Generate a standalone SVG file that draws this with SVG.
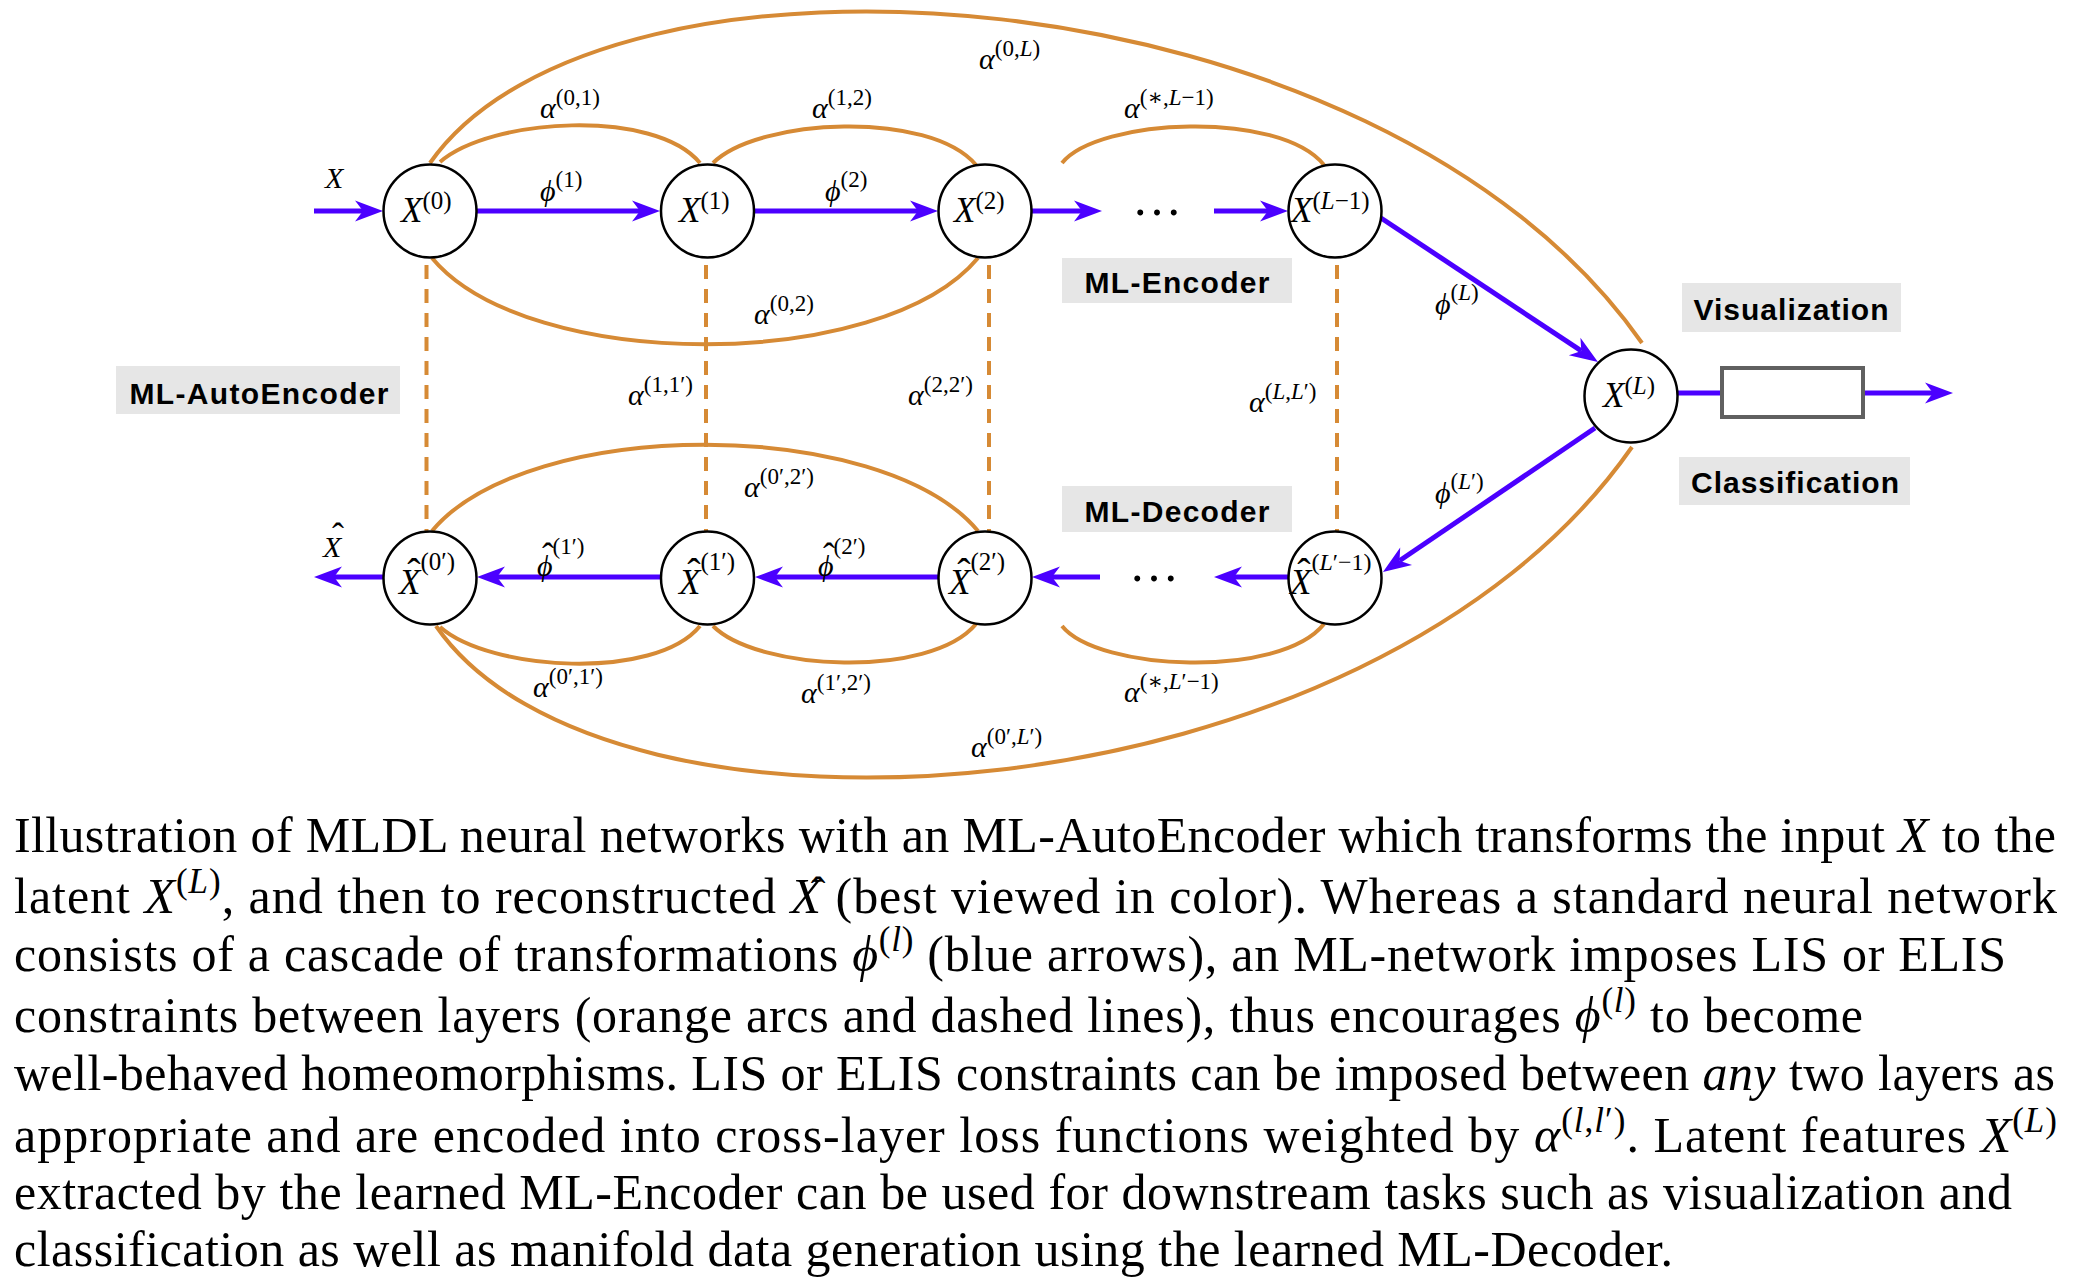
<svg xmlns="http://www.w3.org/2000/svg" width="2083" height="1286" viewBox="0 0 2083 1286">
<style>
.arc{fill:none;stroke:#d68a35;stroke-width:4}
.dash{fill:none;stroke:#d68a35;stroke-width:4;stroke-dasharray:14 10}
.arr{fill:none;stroke:#4b00ff;stroke-width:5;marker-end:url(#ah)}
.ln{fill:none;stroke:#4b00ff;stroke-width:5}
.node{fill:#fff;stroke:#000;stroke-width:2.5}
.tag{fill:#e6e6e6}
.tagt{font-family:"Liberation Sans",Arial,sans-serif;font-weight:bold;font-size:30px;fill:#000;text-anchor:middle}
.m{font-family:"Liberation Serif","DejaVu Serif",serif;font-style:italic;fill:#000}
.n{font-style:normal}
.hat{font-family:"Liberation Serif","DejaVu Serif",serif;fill:#000;text-anchor:middle}
.cap{font-family:"Liberation Serif","Times New Roman",serif;font-size:50px;fill:#000}
.i{font-style:italic}
</style>
<defs>
<marker id="ah" markerUnits="userSpaceOnUse" markerWidth="28" markerHeight="21" refX="8" refY="10.5" orient="auto" overflow="visible">
<path d="M0,0 L28,10.5 L0,21 L8,10.5 Z" fill="#4b00ff"/>
</marker>
</defs>
<rect width="2083" height="1286" fill="#fff"/>

<g id="connectors">
<path class="arc" d="M430,163 C602,-83 1378,-34 1642,343"/>
<path class="arc" d="M440,162 C490,118 655,108 700,163"/>
<path class="arc" d="M713,163 C758,118 930,110 976,165"/>
<path class="arc" d="M1062,163 C1098,118 1280,110 1324,165"/>
<path class="arc" d="M432,258 C528,373 882,373 978,258"/>
<path class="arc" d="M432,531 C528,416 882,416 978,531"/>
<path class="arc" d="M440,627 C490,671 655,681 700,626"/>
<path class="arc" d="M713,626 C758,671 930,679 976,624"/>
<path class="arc" d="M1062,626 C1098,671 1280,679 1324,624"/>
<path class="arc" d="M436,626 C606,872 1370,823 1632,447"/>
<line class="dash" x1="426.5" y1="265" x2="426.5" y2="531"/>
<line class="dash" x1="706" y1="265" x2="706" y2="531"/>
<line class="dash" x1="989" y1="265" x2="989" y2="531"/>
<line class="dash" x1="1337" y1="265" x2="1337" y2="531"/>
<line class="arr" x1="314" y1="211" x2="363" y2="211"/>
<line class="arr" x1="477" y1="211" x2="640" y2="211"/>
<line class="arr" x1="755" y1="211" x2="918" y2="211"/>
<line class="arr" x1="1032" y1="211" x2="1082" y2="211"/>
<line class="arr" x1="1214" y1="211" x2="1268" y2="211"/>
<line class="arr" x1="1381" y1="218" x2="1581.3" y2="350.9"/>
<line class="ln" x1="1677" y1="393" x2="1722" y2="393"/>
<line class="arr" x1="1863" y1="393" x2="1933" y2="393"/>
<line class="arr" x1="1595" y1="428" x2="1399.5" y2="560.8"/>
<line class="arr" x1="1288" y1="577" x2="1234" y2="577"/>
<line class="arr" x1="1100" y1="577" x2="1052" y2="577"/>
<line class="arr" x1="938" y1="577" x2="775" y2="577"/>
<line class="arr" x1="660" y1="577" x2="497" y2="577"/>
<line class="arr" x1="383" y1="577" x2="334" y2="577"/>
<text class="cap" x="1157" y="215" font-size="56" text-anchor="middle">…</text>
<text class="cap" x="1154" y="581" font-size="56" text-anchor="middle">…</text>
<text class="m" x="325" y="188" font-size="30">X</text>
<text class="m" x="323" y="557" font-size="30">X</text>
<text class="hat" x="338" y="548" font-size="36">ˆ</text>
<text class="m" x="540" y="201" font-size="30">ϕ<tspan class="n" font-size="23" dy="-14">(1)</tspan></text>
<text class="m" x="825" y="201" font-size="30">ϕ<tspan class="n" font-size="23" dy="-14">(2)</tspan></text>
<text class="m" x="1435" y="314" font-size="30">ϕ<tspan font-size="23" dy="-14"><tspan class="n">(</tspan>L<tspan class="n">)</tspan></tspan></text>
<text class="m" x="1435" y="503" font-size="30">ϕ<tspan font-size="23" dy="-14"><tspan class="n">(</tspan>L<tspan class="n">′)</tspan></tspan></text>
<text class="m" x="537" y="576" font-size="30">ϕ<tspan class="n" font-size="23" dy="-22">(1′)</tspan></text>
<text class="hat" x="548" y="568" font-size="36">ˆ</text>
<text class="m" x="818" y="576" font-size="30">ϕ<tspan class="n" font-size="23" dy="-22">(2′)</tspan></text>
<text class="hat" x="829" y="568" font-size="36">ˆ</text>
<text class="m" x="540" y="118" font-size="30">α<tspan class="n" font-size="23" dy="-13">(0,1)</tspan></text>
<text class="m" x="812" y="118" font-size="30">α<tspan class="n" font-size="23" dy="-13">(1,2)</tspan></text>
<text class="m" x="979" y="69" font-size="30">α<tspan font-size="23" dy="-13"><tspan class="n">(0,</tspan>L<tspan class="n">)</tspan></tspan></text>
<text class="m" x="1124" y="118" font-size="30">α<tspan font-size="23" dy="-13"><tspan class="n">(∗,</tspan>L<tspan class="n">−1)</tspan></tspan></text>
<text class="m" x="754" y="324" font-size="30">α<tspan class="n" font-size="23" dy="-13">(0,2)</tspan></text>
<text class="m" x="628" y="405" font-size="30">α<tspan class="n" font-size="23" dy="-13">(1,1′)</tspan></text>
<text class="m" x="908" y="405" font-size="30">α<tspan class="n" font-size="23" dy="-13">(2,2′)</tspan></text>
<text class="m" x="1249" y="412" font-size="30">α<tspan font-size="23" dy="-13"><tspan class="n">(</tspan>L<tspan class="n">,</tspan>L<tspan class="n">′)</tspan></tspan></text>
<text class="m" x="744" y="497" font-size="30">α<tspan class="n" font-size="23" dy="-13">(0′,2′)</tspan></text>
<text class="m" x="533" y="697" font-size="30">α<tspan class="n" font-size="23" dy="-13">(0′,1′)</tspan></text>
<text class="m" x="801" y="703" font-size="30">α<tspan class="n" font-size="23" dy="-13">(1′,2′)</tspan></text>
<text class="m" x="1124" y="702" font-size="30">α<tspan font-size="23" dy="-13"><tspan class="n">(∗,</tspan>L<tspan class="n">′−1)</tspan></tspan></text>
<text class="m" x="971" y="757" font-size="30">α<tspan font-size="23" dy="-13"><tspan class="n">(0′,</tspan>L<tspan class="n">′)</tspan></tspan></text>
</g>

<g id="n-x0"><circle class="node" cx="430" cy="211" r="46.5"/><text class="m" x="401" y="222" font-size="35">X<tspan class="n" font-size="25" dy="-13">(0)</tspan></text></g>
<g id="n-x1"><circle class="node" cx="707.5" cy="211" r="46.5"/><text class="m" x="679" y="222" font-size="35">X<tspan class="n" font-size="25" dy="-13">(1)</tspan></text></g>
<g id="n-x2"><circle class="node" cx="985" cy="211" r="46.5"/><text class="m" x="954" y="222" font-size="35">X<tspan class="n" font-size="25" dy="-13">(2)</tspan></text></g>
<g id="n-xl1"><circle class="node" cx="1335" cy="211" r="46.5"/><text class="m" x="1291" y="222" font-size="35">X<tspan font-size="25" dy="-13"><tspan class="n">(</tspan>L<tspan class="n">−1)</tspan></tspan></text></g>
<g id="n-xl"><circle class="node" cx="1631" cy="396" r="46.5"/><text class="m" x="1603" y="407" font-size="35">X<tspan font-size="25" dy="-13"><tspan class="n">(</tspan>L<tspan class="n">)</tspan></tspan></text></g>
<g id="n-y0"><circle class="node" cx="430" cy="578" r="46.5"/><text class="m" x="399" y="594" font-size="35">X<tspan class="n" font-size="25" dy="-24">(0′)</tspan></text><text class="hat" x="414" y="586" font-size="40">ˆ</text></g>
<g id="n-y1"><circle class="node" cx="707.5" cy="578" r="46.5"/><text class="m" x="679" y="594" font-size="35">X<tspan class="n" font-size="25" dy="-24">(1′)</tspan></text><text class="hat" x="694" y="586" font-size="40">ˆ</text></g>
<g id="n-y2"><circle class="node" cx="985" cy="578" r="46.5"/><text class="m" x="949" y="594" font-size="35">X<tspan class="n" font-size="25" dy="-24">(2′)</tspan></text><text class="hat" x="964" y="586" font-size="40">ˆ</text></g>
<g id="n-yl1"><circle class="node" cx="1335" cy="578" r="46.5"/><text class="m" x="1290" y="594" font-size="35">X<tspan font-size="24" dy="-24"><tspan class="n">(</tspan>L<tspan class="n">′−1)</tspan></tspan></text><text class="hat" x="1304" y="586" font-size="40">ˆ</text></g>
<g id="n-box"><rect x="1722" y="368" width="141" height="49" fill="#fff" stroke="#606060" stroke-width="4"/></g>

<g id="n-autoenc"><rect class="tag" x="116" y="366" width="284" height="48"/><text class="tagt" x="259" y="404" textLength="259" lengthAdjust="spacing">ML-AutoEncoder</text></g>
<g id="n-enc"><rect class="tag" x="1062" y="258" width="230" height="45"/><text class="tagt" x="1177" y="293" textLength="185" lengthAdjust="spacing">ML-Encoder</text></g>
<g id="n-dec"><rect class="tag" x="1062" y="486" width="230" height="46"/><text class="tagt" x="1177" y="522" textLength="185" lengthAdjust="spacing">ML-Decoder</text></g>
<g id="n-vis"><rect class="tag" x="1682" y="283" width="219" height="49"/><text class="tagt" x="1791" y="320" textLength="195" lengthAdjust="spacing">Visualization</text></g>
<g id="n-cls"><rect class="tag" x="1679" y="457" width="231" height="48"/><text class="tagt" x="1795" y="493" textLength="208" lengthAdjust="spacing">Classification</text></g>

<g id="caption">
<text class="cap" x="14" y="852" textLength="2042" lengthAdjust="spacing">Illustration of MLDL neural networks with an ML-AutoEncoder which transforms the input <tspan class="i">X</tspan> to the</text>
<text class="cap" x="14" y="913" textLength="2043" lengthAdjust="spacing">latent <tspan class="i">X</tspan><tspan font-size="35" dy="-20">(<tspan class="i">L</tspan>)</tspan><tspan dy="20">, and then to reconstructed </tspan><tspan class="i">X</tspan> (best viewed in color). Whereas a standard neural network</text>
<text class="hat" x="818" y="907" font-size="44">ˆ</text>
<text class="cap" x="14" y="971" textLength="1992" lengthAdjust="spacing">consists of a cascade of transformations <tspan class="i">ϕ</tspan><tspan font-size="35" dy="-20">(<tspan class="i">l</tspan>)</tspan><tspan dy="20"> (blue arrows), an ML-network imposes LIS or ELIS</tspan></text>
<text class="cap" x="14" y="1032" textLength="1849" lengthAdjust="spacing">constraints between layers (orange arcs and dashed lines), thus encourages <tspan class="i">ϕ</tspan><tspan font-size="35" dy="-20">(<tspan class="i">l</tspan>)</tspan><tspan dy="20"> to become</tspan></text>
<text class="cap" x="14" y="1090" textLength="2041" lengthAdjust="spacing">well-behaved homeomorphisms. LIS or ELIS constraints can be imposed between <tspan class="i">any</tspan> two layers as</text>
<text class="cap" x="14" y="1152" textLength="2043" lengthAdjust="spacing">appropriate and are encoded into cross-layer loss functions weighted by <tspan class="i">α</tspan><tspan font-size="35" dy="-20">(<tspan class="i">l</tspan>,<tspan class="i">l</tspan>′)</tspan><tspan dy="20">. Latent features </tspan><tspan class="i">X</tspan><tspan font-size="35" dy="-20">(<tspan class="i">L</tspan>)</tspan></text>
<text class="cap" x="14" y="1209" textLength="1998" lengthAdjust="spacing">extracted by the learned ML-Encoder can be used for downstream tasks such as visualization and</text>
<text class="cap" x="14" y="1266" textLength="1659" lengthAdjust="spacing">classification as well as manifold data generation using the learned ML-Decoder.</text>
</g>
</svg>
